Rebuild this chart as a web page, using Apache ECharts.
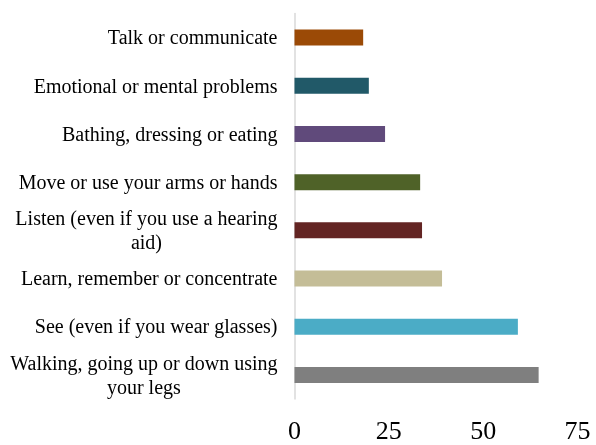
<!DOCTYPE html>
<html>
<head>
<meta charset="utf-8">
<script src="https://cdn.jsdelivr.net/npm/echarts@6/dist/echarts.min.js"></script>
<style>
html,body{margin:0;padding:0;background:#fff;}
#chart{width:596px;height:445px;}
</style>
</head>
<body>
<div id="chart"></div>
<script>
const categories = [
  "Talk or communicate",
  "Emotional or mental problems",
  "Bathing, dressing or eating",
  "Move or use your arms or hands",
  "Listen (even if you use a hearing\naid)",
  "Learn, remember or concentrate",
  "See (even if you wear glasses)",
  "Walking, going up or down using\nyour legs"
];
const values = [18.2, 19.7, 24.0, 33.3, 33.8, 39.1, 59.2, 64.7];
const barColors = ["#9b4a06", "#215968", "#604a7b", "#4f6228", "#632523", "#c4bd97", "#4bacc6", "#7f7f7f"];
const xTicks = [0, 25, 50, 75];

const chart = echarts.init(document.getElementById('chart'), null, {renderer: 'canvas'});
chart.setOption({
  animation: false,
  backgroundColor: '#ffffff',
  grid: {left: 294.5, right: 18.5, top: 13.5, bottom: 41.5, containLabel: false},
  xAxis: {
    type: 'value',
    min: xTicks[0],
    max: xTicks[xTicks.length - 1],
    interval: 25,
    axisLine: {show: false},
    axisTick: {show: false},
    splitLine: {show: false},
    axisLabel: {
      fontFamily: 'Liberation Serif',
      fontSize: 26,
      color: '#000',
      margin: 20
    }
  },
  yAxis: {
    type: 'category',
    inverse: true,
    data: categories,
    axisLine: {show: true, lineStyle: {color: '#d9d9d9', width: 1.5}},
    axisTick: {show: false},
    splitLine: {show: false},
    axisLabel: {
      fontFamily: 'Liberation Serif',
      fontSize: 20,
      color: '#000',
      margin: 17,
      lineHeight: 24,
      padding: [3, 0, 0, 0],
      formatter: function (v) {
        if (v.indexOf('\n') < 0) return v;
        return v.split('\n').map(function (s) { return '{c|' + s + '}'; }).join('\n');
      },
      rich: {
        c: {align: 'center', fontFamily: 'Liberation Serif', fontSize: 20, lineHeight: 24, color: '#000'}
      }
    }
  },
  series: [{
    type: 'bar',
    data: values.map(function (v, i) { return {value: v, itemStyle: {color: barColors[i]}}; }),
    barWidth: 16,
    silent: true
  }]
});
</script>
</body>
</html>
